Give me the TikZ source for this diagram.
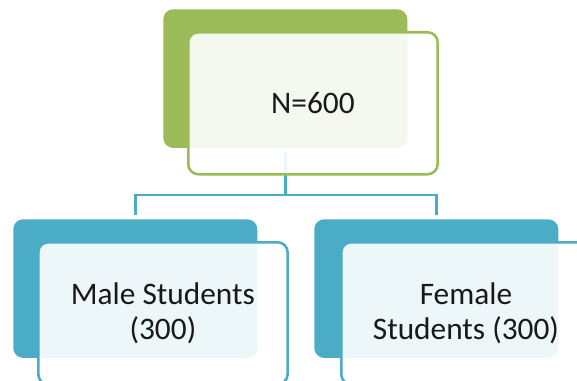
\documentclass[tikz,border=0pt]{standalone}
\usepackage{fontspec}
\setmainfont{Carlito}
\usepackage{xcolor}
\usepackage{tikz}
\usetikzlibrary{
    positioning
}
\definecolor{leafgreen}{HTML}{9BBB59}
\definecolor{aqua}{HTML}{4BACC6}
\tikzstyle{backbox} = [
    rectangle,
    rounded corners=7.5pt,
    minimum width=183pt,
    minimum height=104pt
]
\tikzstyle{frontbox} = [
    rectangle,
    rounded corners=7.5pt,
    line width=1.9pt,
    fill=white,
    fill opacity=0.9,
    text opacity=1,
    text=black!90,
    align=center,
    font=\fontsize{23.5}{26.5}\selectfont,
    minimum width=187pt,
    minimum height=106.5pt
]
\tikzstyle{link} = [
    aqua,
    line width=1.9pt,
    shorten <=3pt,
    shorten >=3pt
]

\begin{document}
\begin{tikzpicture}[x=0.75pt,y=-0.75pt]
\useasboundingbox (0,0) rectangle (577,381);
% back layer
\node[backbox, fill=leafgreen, anchor=north west] (totalback)  at (163,9)   {};
\node[backbox, fill=aqua,      anchor=north west] (maleback)   at (13,219)  {};
\node[backbox, fill=aqua,      anchor=north west] (femaleback) at (314,219) {};
% links
\coordinate (fork) at (totalback.south |- 0,195);
\draw[link] (totalback.south) -- (fork) -| (maleback.north);
\draw[link, shorten <=0pt] (fork) -| (femaleback.north);
% front layer
\node[frontbox, draw=leafgreen, anchor=north west] (total)
    at ([shift={(24,22)}]totalback.north west) {N=600};
\node[frontbox, draw=aqua, anchor=north west] (male)
    at ([shift={(24,22)}]maleback.north west) {Male Students\\(300)};
\node[frontbox, draw=aqua, anchor=north west] (female)
    at ([shift={(26,22)}]femaleback.north west) {Female\\Students (300)};
\end{tikzpicture}
\end{document}
